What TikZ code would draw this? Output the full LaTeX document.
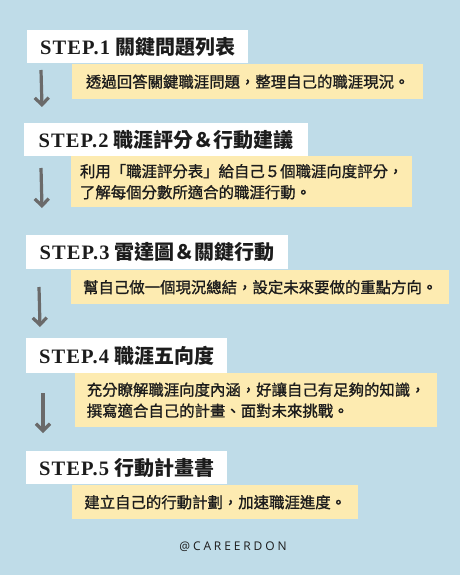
\documentclass[tikz,border=0pt]{standalone}
\usepackage{fontspec}
\setmainfont{Liberation Serif}
\newfontfamily\cjk{Noto Sans CJK TC}
\newfontfamily\cjknote[FakeBold=1.2]{Noto Sans CJK TC}
\newfontfamily\stepfont[LetterSpace=5]{Liberation Serif}
\newfontfamily\brandfont[LetterSpace=24]{Open Sans}
\usetikzlibrary{arrows.meta}
\definecolor{bgblue}{HTML}{BFDCE8}
\definecolor{notey}{HTML}{FDEBB1}
\definecolor{arrowgray}{HTML}{6A6A6A}
\definecolor{inkc}{HTML}{1C1C1C}
\newcommand{\steptitle}[2]{{\stepfont\bfseries STEP.#1}\ {\cjk\bfseries\fontsize{20}{24}\selectfont #2}}
\tikzset{
  titlebox/.style={fill=white, text=inkc, anchor=north west, inner sep=0pt, font=\fontsize{20.5}{24}\selectfont},
  notebox/.style={fill=notey, text=inkc, anchor=north west, inner sep=0pt, align=left, font=\cjknote\fontsize{15.4}{21}\selectfont},
  flow/.style={draw=arrowgray, line width=3.2pt, -{Straight Barb[length=7pt,width=14pt]}}
}
\begin{document}
\begin{tikzpicture}[x=1pt, y=-1pt]
\fill[bgblue] (0,0) rectangle (460,575);
\useasboundingbox (0,0) rectangle (460,575);
% step 1
\node[notebox, minimum width=351pt, minimum height=35pt] (d1) at (72,64) {透過回答關鍵職涯問題，整理自己的職涯現況。};
\node[titlebox, minimum width=221pt, minimum height=33pt] (s1) at (27,30) {\steptitle{1}{關鍵問題列表}};
% step 2
\node[notebox, minimum width=341pt, minimum height=51pt] (d2) at (71,156) {利用「職涯評分表」給自己５個職涯向度評分，\\了解每個分數所適合的職涯行動。};
\node[titlebox, minimum width=284pt, minimum height=33pt] (s2) at (24,123) {\steptitle{2}{職涯評分＆行動建議}};
% step 3
\node[notebox, minimum width=378pt, minimum height=34pt] (d3) at (71,270) {幫自己做一個現況總結，設定未來要做的重點方向。};
\node[titlebox, minimum width=262pt, minimum height=34pt] (s3) at (26,235) {\steptitle{3}{雷達圖＆關鍵行動}};
% step 4
\node[notebox, minimum width=362pt, minimum height=54pt] (d4) at (75,373) {充分瞭解職涯向度內涵，好讓自己有足夠的知識，\\撰寫適合自己的計畫、面對未來挑戰。};
\node[titlebox, minimum width=201pt, minimum height=35pt] (s4) at (26,338) {\steptitle{4}{職涯五向度}};
% step 5
\node[notebox, minimum width=286pt, minimum height=34pt] (d5) at (72,485) {建立自己的行動計劃，加速職涯進度。};
\node[titlebox, minimum width=201pt, minimum height=33pt] (s5) at (26,451) {\steptitle{5}{行動計畫書}};
\node[text=inkc, font=\brandfont\fontsize{12}{14}\selectfont] (brand) at (233,547) {@CAREERDON};
% arrows
\coordinate (a1) at (41,70);  \coordinate (b1) at (42,107);
\coordinate (a2) at (41,168); \coordinate (b2) at (42,208);
\coordinate (a3) at (39,287); \coordinate (b3) at (40,327);
\coordinate (a4) at (43,393); \coordinate (b4) at (43,433);
\foreach \i in {1,...,4}
  \draw[flow] (a\i) -- (b\i);
\end{tikzpicture}
\end{document}
